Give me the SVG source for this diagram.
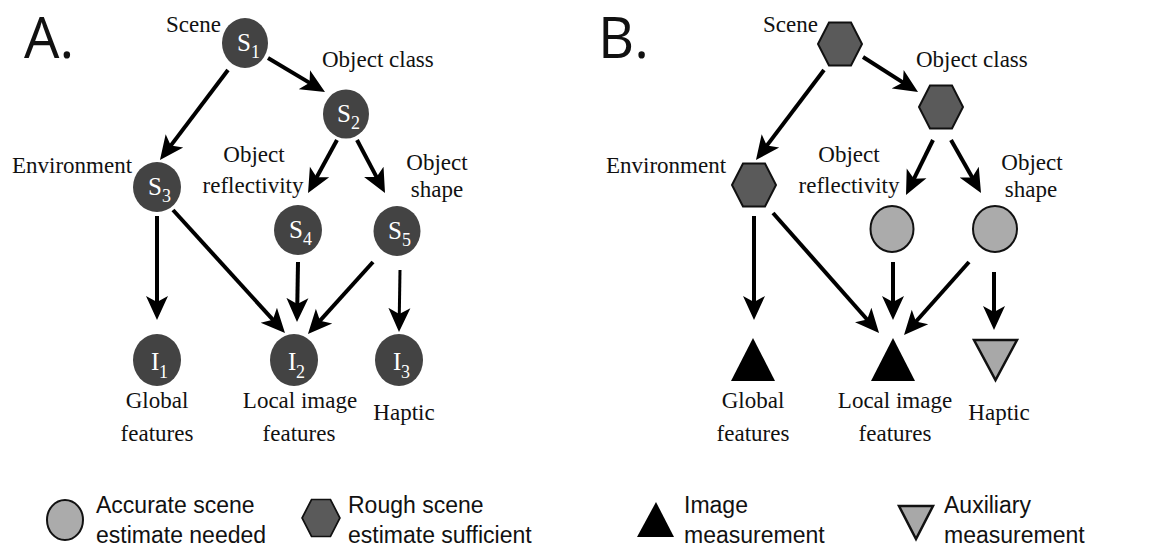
<svg xmlns="http://www.w3.org/2000/svg" width="1152" height="551" viewBox="0 0 1152 551">
<style>
.t{font-family:"Liberation Serif","Times New Roman",serif;font-size:23px;fill:#111}
.m{text-anchor:middle}
.pl{font-family:"Open Sans","DejaVu Sans",sans-serif;font-size:56px;fill:#111}
.lg{font-family:"Liberation Sans",Arial,sans-serif;font-size:23px;fill:#111}
.dk{fill:#434343}
.nl{font-family:"Liberation Serif","Times New Roman",serif;font-size:25px;fill:#fff}
.sb{font-family:"Liberation Serif","Times New Roman",serif;font-size:18px;fill:#fff}
.hx{fill:#5a5a5a;stroke:#111;stroke-width:2}
.lt{fill:#ababab;stroke:#111;stroke-width:2}
.tri{fill:#000}
.gtri{fill:#a8a8a8;stroke:#111;stroke-width:2.5}
.e{stroke:#000;stroke-width:4;fill:none;marker-end:url(#ah)}
.e3{stroke:#000;stroke-width:3;fill:none;marker-end:url(#ah)}
</style>
<defs>
<marker id="ah" viewBox="0 0 24 24" refX="12" refY="12" markerWidth="24" markerHeight="24" markerUnits="userSpaceOnUse" orient="auto">
<path d="M0,1 L24,12 L0,23 L6,12 Z" fill="#000"/>
</marker>
<polygon id="hex" points="-22,0 -11,-21.5 11,-21.5 22,0 11,21.5 -11,21.5"/>
</defs>
<rect width="1152" height="551" fill="#fff"/>

<g id="labelA"><text class="pl" x="24" y="58">A.</text></g>
<g id="labelB"><text class="pl" x="598" y="58">B.</text></g>

<g id="connectors">
<line class="e" x1="268" y1="58" x2="314.7" y2="85.9"/>
<line class="e" x1="228" y1="70" x2="167.2" y2="150.4"/>
<line class="e" x1="337" y1="140" x2="313.8" y2="182.5"/>
<line class="e" x1="357" y1="140" x2="379.4" y2="182.4"/>
<line class="e" x1="157" y1="216" x2="157" y2="308"/>
<line class="e" x1="173" y1="210" x2="276.9" y2="324.1"/>
<line class="e" x1="298" y1="262" x2="297.2" y2="310"/>
<line class="e" x1="373" y1="262" x2="316" y2="325.1"/>
<line class="e3" x1="400" y1="270" x2="399.2" y2="320"/>

<line class="e" x1="863" y1="57" x2="907.9" y2="85.6"/>
<line class="e" x1="824" y1="70" x2="763.2" y2="150.4"/>
<line class="e" x1="933" y1="140" x2="911.3" y2="184.2"/>
<line class="e" x1="951" y1="140" x2="975.1" y2="182.6"/>
<line class="e" x1="754" y1="216" x2="754" y2="308"/>
<line class="e" x1="773" y1="213" x2="871.1" y2="324"/>
<line class="e" x1="893" y1="262" x2="893" y2="308"/>
<line class="e" x1="969" y1="262" x2="912" y2="326"/>
<line class="e" x1="994" y1="272" x2="994" y2="318"/>
</g>

<!-- Panel A nodes -->
<g id="A_S1"><ellipse class="dk" cx="245" cy="43" rx="23" ry="25"/><text class="nl" x="237" y="51">S</text><text class="sb" x="251" y="58">1</text><text class="t" x="166" y="32">Scene</text></g>
<g id="A_S2"><ellipse class="dk" cx="346" cy="114" rx="23" ry="24.5"/><text class="nl" x="337" y="122">S</text><text class="sb" x="351" y="129">2</text><text class="t" x="322" y="67">Object class</text></g>
<g id="A_S3"><ellipse class="dk" cx="157" cy="187" rx="24" ry="25"/><text class="nl" x="148" y="195">S</text><text class="sb" x="162" y="202">3</text><text class="t" x="12" y="173">Environment</text></g>
<g id="A_S4"><ellipse class="dk" cx="298" cy="230" rx="24" ry="25"/><text class="nl" x="289" y="238">S</text><text class="sb" x="303" y="245">4</text><text class="t m" x="254" y="162">Object</text><text class="t m" x="253" y="193">reflectivity</text></g>
<g id="A_S5"><ellipse class="dk" cx="397" cy="231" rx="23.5" ry="25"/><text class="nl" x="388" y="239">S</text><text class="sb" x="402" y="246">5</text><text class="t m" x="437" y="170">Object</text><text class="t m" x="437" y="197">shape</text></g>
<g id="A_I1"><ellipse class="dk" cx="157" cy="360" rx="24" ry="26"/><text class="nl" x="151" y="370">I</text><text class="sb" x="159" y="378">1</text><text class="t m" x="157" y="408">Global</text><text class="t m" x="157" y="441">features</text></g>
<g id="A_I2"><ellipse class="dk" cx="294" cy="360" rx="24" ry="26"/><text class="nl" x="288" y="370">I</text><text class="sb" x="296" y="378">2</text><text class="t m" x="300" y="408">Local image</text><text class="t m" x="299" y="441">features</text></g>
<g id="A_I3"><ellipse class="dk" cx="399" cy="360" rx="24" ry="26"/><text class="nl" x="393" y="370">I</text><text class="sb" x="401" y="378">3</text><text class="t m" x="404" y="420">Haptic</text></g>

<!-- Panel B nodes -->
<g id="B_scene"><use href="#hex" x="840" y="44" class="hx"/><text class="t" x="763" y="32">Scene</text></g>
<g id="B_class"><use href="#hex" x="941" y="107" class="hx"/><text class="t" x="916" y="67">Object class</text></g>
<g id="B_env"><use href="#hex" x="754" y="185" class="hx"/><text class="t" x="606" y="173">Environment</text></g>
<g id="B_refl"><ellipse class="lt" cx="892" cy="229" rx="21.5" ry="23"/><text class="t m" x="849" y="162">Object</text><text class="t m" x="849" y="193">reflectivity</text></g>
<g id="B_shape"><ellipse class="lt" cx="995" cy="229" rx="22" ry="23"/><text class="t m" x="1032" y="170">Object</text><text class="t m" x="1031" y="197">shape</text></g>
<g id="B_global"><polygon class="tri" points="753,338 775,381 731,381"/><text class="t m" x="753" y="408">Global</text><text class="t m" x="753" y="441">features</text></g>
<g id="B_local"><polygon class="tri" points="893,338 915,381 871,381"/><text class="t m" x="895" y="408">Local image</text><text class="t m" x="895" y="441">features</text></g>
<g id="B_haptic"><polygon class="gtri" points="974,340 1017,340 995.5,380"/><text class="t m" x="999" y="420">Haptic</text></g>

<!-- Legend -->
<g id="legend_accurate"><ellipse class="lt" cx="65" cy="520" rx="18" ry="20"/><text class="lg" x="96" y="513">Accurate scene</text><text class="lg" x="96" y="543">estimate needed</text></g>
<g id="legend_rough"><use href="#hex" x="321" y="518" class="hx" transform="translate(321 518) scale(0.86) translate(-321 -518)"/><text class="lg" x="348" y="513">Rough scene</text><text class="lg" x="348" y="543">estimate sufficient</text></g>
<g id="legend_image"><polygon class="tri" points="656,502 674,537 637,537"/><text class="lg" x="684" y="513">Image</text><text class="lg" x="684" y="543">measurement</text></g>
<g id="legend_aux"><polygon class="gtri" points="899,506 933,506 916,539"/><text class="lg" x="944" y="513">Auxiliary</text><text class="lg" x="944" y="543">measurement</text></g>
</svg>
